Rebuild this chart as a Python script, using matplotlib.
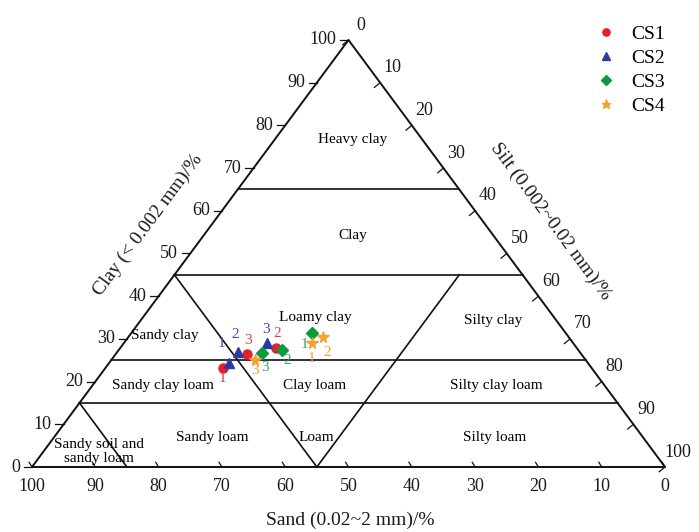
import matplotlib.pyplot as plt
import numpy as np

plt.rcParams['font.family'] = ['Liberation Serif', 'DejaVu Serif']

# ---- data (percent) ----
series = ["CS1", "CS2", "CS3", "CS4"]
point_ids = ["1", "2", "3"]
cs1_sand = [58.2, 47.5, 52.8]
cs1_silt = [18.6, 24.6, 20.7]
cs1_clay = [23.2, 27.9, 26.5]
cs2_sand = [56.7, 54.0, 48.4]
cs2_silt = [18.9, 19.1, 22.6]
cs2_clay = [24.4, 26.9, 29.0]
cs3_sand = [40.1, 46.8, 50.3]
cs3_silt = [28.5, 25.8, 23.0]
cs3_clay = [31.4, 27.4, 26.7]
cs4_sand = [41.3, 38.8, 52.2]
cs4_silt = [29.7, 30.8, 22.7]
cs4_clay = [29.0, 30.4, 25.1]

ticks = list(range(0, 101, 10))

# ---- style ----
colors = ["#e3202b", "#2b3ba3", "#0b9a3c", "#f7a032"]
label_colors = ["#d8405a", "#4646b4", "#3aa860", "#f4a040"]
markers = ["o", "^", "D", "*"]
msizes = [6.5, 7.5, 6.0, 8.5]
# offsets (pixels, y up) of the point number labels
label_off = [
    [(-1, -11), (1, 14), (1, 13)],
    [(-7, 19), (-3, 18), (-1, 14)],
    [(-7, -12), (5, -10), (3, -15)],
    [(0, -15), (4, -15), (0, -11)],
]


def tern(sand, silt, clay):
    sand, silt, clay = np.asarray(sand), np.asarray(silt), np.asarray(clay)
    return silt + clay / 2.0, clay


fig = plt.figure(figsize=(6.99, 5.32), dpi=100)
ax = fig.add_axes([32 / 699, 65 / 532, 633 / 699, 427 / 532])
ax.set_xlim(0, 100)
ax.set_ylim(0, 100)
ax.axis('off')

kw = dict(color='#111111', lw=1.4, clip_on=False, solid_capstyle='butt')
# triangle outline
ax.plot([0, 100, 50, 0], [0, 0, 100, 0], **kw)

# class boundaries as (sand, silt, clay) end points
bounds = [
    ((35, 0, 65), (0, 35, 65)),
    ((55, 0, 45), (0, 55, 45)),
    ((75, 0, 25), (0, 75, 25)),
    ((85, 0, 15), (0, 85, 15)),
    ((55, 0, 45), (55, 45, 0)),
    ((55, 45, 0), (10, 45, 45)),
    ((85, 0, 15), (85, 15, 0)),
]
for a, b in bounds:
    xa, ya = tern(*a)
    xb, yb = tern(*b)
    ax.plot([xa, xb], [ya, yb], color='#111111', lw=1.2, clip_on=False)

# ticks and tick labels
tk = dict(color='#111111', lw=0.9, clip_on=False)
txt = '#1a1a1a'
for t in ticks:
    # clay, left edge
    x, y = tern(100 - t, 0, t)
    ax.plot([x, x - 1.3], [y, y], **tk)
    ax.text(x - 1.9, y, str(t), ha='right', va='center', fontsize=13,
            color=txt)
    # sand, bottom edge
    x, y = tern(t, 100 - t, 0)
    ax.plot([x, x - 0.45], [y, y + 1.1], **tk)
    ax.text(x, y - 2.6, str(t), ha='center', va='top', fontsize=13, color=txt)
    # silt, right edge
    x, y = tern(0, t, 100 - t)
    ax.plot([x, x - 0.9], [y, y - 1.1], **tk)
    ax.text(x + 2.0, y + 3.5, str(t), ha='center', va='center', fontsize=13,
            color=txt)

# class names
fs = 11
ax.text(50.7, 76.6, "Heavy clay", ha='center', va='center', fontsize=fs)
ax.text(50.7, 54.3, "Clay", ha='center', va='center', fontsize=fs)
ax.text(44.7, 34.9, "Loamy clay", ha='center', va='center', fontsize=fs)
ax.text(21.0, 30.7, "Sandy clay", ha='center', va='center', fontsize=fs)
ax.text(72.8, 34.4, "Silty clay", ha='center', va='center', fontsize=fs)
ax.text(20.7, 19.2, "Sandy clay loam", ha='center', va='center', fontsize=fs)
ax.text(44.7, 19.2, "Clay loam", ha='center', va='center', fontsize=fs)
ax.text(73.3, 19.0, "Silty clay loam", ha='center', va='center', fontsize=fs)
ax.text(28.4, 7.0, "Sandy loam", ha='center', va='center', fontsize=fs)
ax.text(44.9, 7.0, "Loam", ha='center', va='center', fontsize=fs)
ax.text(73.1, 7.0, "Silty loam", ha='center', va='center', fontsize=fs)
ax.text(10.6, 3.6, "Sandy soil and\nsandy loam", ha='center', va='center',
        fontsize=fs, linespacing=1.05)

# axis titles
fig.text(350 / 699, 1 - 520 / 532, "Sand (0.02~2 mm)/%", ha='center',
         va='center', fontsize=14, color=txt)
fig.text(148 / 699, 1 - 225 / 532, "Clay (< 0.002 mm)/%", ha='center',
         va='center', fontsize=14, rotation=53.5, rotation_mode='anchor',
         color=txt)
fig.text(551 / 699, 1 - 221 / 532, "Silt (0.002~0.02 mm)/%", ha='center',
         va='center', fontsize=14, rotation=-53.5, rotation_mode='anchor',
         color=txt)

# data points
data = [
    (cs1_sand, cs1_silt, cs1_clay),
    (cs2_sand, cs2_silt, cs2_clay),
    (cs3_sand, cs3_silt, cs3_clay),
    (cs4_sand, cs4_silt, cs4_clay),
]
handles = []
for i, (sa, si, cl) in enumerate(data):
    x, y = tern(sa, si, cl)
    h, = ax.plot(x, y, ls='none', marker=markers[i], ms=msizes[i],
                 color=colors[i], mec=colors[i], label=series[i],
                 clip_on=False, zorder=3)
    handles.append(h)
    for j, pid in enumerate(point_ids):
        dx, dy = label_off[i][j]
        ax.annotate(pid, (x[j], y[j]), xytext=(dx * 0.72, dy * 0.72),
                    textcoords='offset points', ha='center', va='center',
                    fontsize=11, color=label_colors[i], zorder=4)

fig.legend(handles=handles, loc='upper left',
           bbox_to_anchor=(583 / 699, 1 - 12 / 532), frameon=False,
           fontsize=14, markerscale=0.8, handlelength=1.0,
           handletextpad=0.8, labelspacing=0.32, borderpad=0.2)

fig.savefig("out.png", dpi=100)
